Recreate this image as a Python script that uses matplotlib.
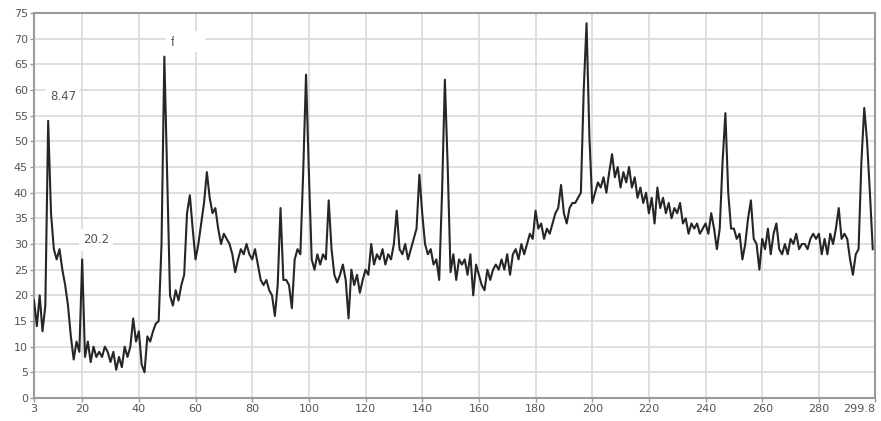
import matplotlib
matplotlib.use('Agg')
import matplotlib.pyplot as plt
import numpy as np

# valores, un punto por unidad de x (3..299)
x_start = 3
x_end = 299.8
values = [
    19, 14, 20, 13, 18, 54, 36, 29, 27, 29,          # 3-12
    25, 22, 18, 12, 7.5, 11, 9, 27, 8, 11,           # 13-22
    7, 10, 8, 9, 8, 10, 9, 7, 9, 5.5,                # 23-32
    8, 6, 10, 8, 10, 15.5, 11, 13, 6.5, 5,           # 33-42
    12, 11, 13, 14.5, 15, 30, 66.5, 43, 20, 18,      # 43-52
    21, 19, 22, 24, 36, 39.5, 33, 27, 30, 34,        # 53-62
    38, 44, 39, 36, 37, 33, 30, 32, 31, 30,          # 63-72
    28, 24.5, 27, 29, 28, 30, 28, 27, 29, 26,        # 73-82
    23, 22, 23, 21, 20, 16, 22, 37, 23, 23,          # 83-92
    22, 17.5, 27, 29, 28, 44, 63, 44, 27, 25,        # 93-102
    28, 26, 28, 27, 38.5, 29, 24, 22.5, 24, 26,      # 103-112
    23, 15.5, 25, 22, 24, 20.5, 23, 25, 24, 30,      # 113-122
    26, 28, 27, 29, 26, 28, 27, 30, 36.5, 29,        # 123-132
    28, 30, 27, 29, 31, 33, 43.5, 36, 30, 28,        # 133-142
    29, 26, 27, 23, 40, 62, 45, 24.5, 28, 23,        # 143-152
    27, 26, 27, 24, 28, 20, 26, 24, 22, 21,          # 153-162
    25, 23, 25, 26, 25, 27, 25, 28, 24, 28,          # 163-172
    29, 27, 30, 28, 30, 32, 31, 36.5, 33, 34,        # 173-182
    31, 33, 32, 34, 36, 37, 41.5, 36, 34, 37,        # 183-192
    38, 38, 39, 40, 60, 73, 51, 38, 40, 42,          # 193-202
    41, 43, 40, 44, 47.5, 43, 45, 41, 44, 42,        # 203-212
    45, 41, 43, 39, 41, 38, 40, 36, 39, 34,          # 213-222
    41, 37, 39, 36, 38, 35, 37, 36, 38, 34,          # 223-232
    35, 32, 34, 33, 34, 32, 33, 34, 32, 36,          # 233-242
    33, 29, 33, 46, 55.5, 40, 33, 33, 31, 32,        # 243-252
    27, 30, 35, 38.5, 31, 30, 25, 31, 29, 33,        # 253-262
    28, 32, 34, 29, 28, 30, 28, 31, 30, 32,          # 263-272
    29, 30, 30, 29, 31, 32, 31, 32, 28, 31,          # 273-282
    28, 32, 30, 33, 37, 31, 32, 31, 27, 24,          # 283-292
    28, 29, 46, 56.5, 50, 40, 29,                    # 293-299
]
X = np.arange(x_start, x_start + len(values))
Y = np.array(values)

x_ticks = [3, 20, 40, 60, 80, 100, 120, 140, 160, 180, 200, 220, 240, 260, 280, 299.8]
x_tick_labels = ['3', '20', '40', '60', '80', '100', '120', '140', '160', '180',
                 '200', '220', '240', '260', '280', '299.8']
y_ticks = np.arange(0, 80, 5)

# etiquetas de picos: (texto, x, y)
peak_labels = [('8.47', 8.6, 58.7), ('20.2', 20.3, 30.8), ('f', 51.2, 69.2)]

fig = plt.figure(figsize=(8.81, 4.21), dpi=100)
ax = fig.add_axes([0.0386, 0.0546, 0.9546, 0.9145])

ax.plot(X, Y, color='#262626', linewidth=1.5, zorder=3)

ax.set_xlim(x_start, x_end)
ax.set_ylim(0, 75)
ax.set_xticks(x_ticks)
ax.set_xticklabels(x_tick_labels)
ax.set_yticks(y_ticks)

ax.grid(True, color='#d9d9d9', linewidth=1.2, zorder=0)
for s in ax.spines.values():
    s.set_color('#9a9a9a')
    s.set_linewidth(1.5)
ax.tick_params(axis='both', colors='#9a9a9a', length=3, width=1,
               labelsize=8, labelcolor='#555555', pad=1.5)

# la última etiqueta (299.8) se alinea a la derecha para que no se corte
ax.get_xticklabels()[-1].set_horizontalalignment('right')

for txt, tx, ty in peak_labels:
    ax.text(tx, ty, txt, fontsize=8.5, color='#555555', va='center', ha='left',
            zorder=2, bbox=dict(facecolor='white', edgecolor='none', pad=3))
# recuadro blanco junto a la etiqueta 'f'
ax.text(54.0, 69.5, '      ', fontsize=8.5, va='center', ha='left', zorder=2,
        bbox=dict(facecolor='white', edgecolor='none', pad=3))

fig.savefig('out.png', dpi=100)
